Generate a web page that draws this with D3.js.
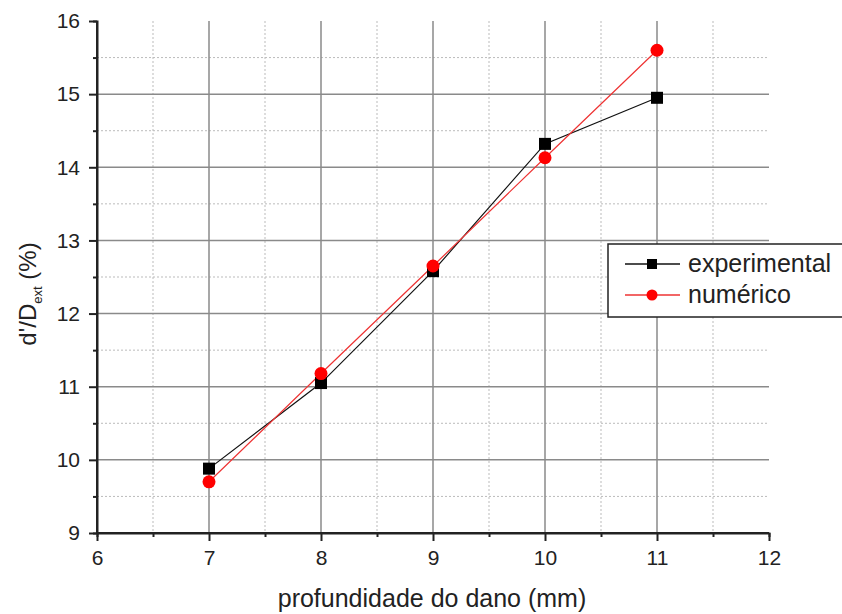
<!DOCTYPE html>
<html>
<head>
<meta charset="utf-8">
<script src="https://cdn.jsdelivr.net/npm/d3@7"></script>
<style>
  body { margin: 0; background: #fff; }
  text { font-family: "Liberation Sans", Arial, sans-serif; }
</style>
</head>
<body>
<div id="chart"></div>
<script>
// data
var depth = [7, 8, 9, 10, 11];
var experimental = [9.88, 11.05, 12.58, 14.32, 14.95];
var numerico = [9.70, 11.18, 12.65, 14.13, 15.60];
var xTicks = [6, 7, 8, 9, 10, 11, 12];
var yTicks = [9, 10, 11, 12, 13, 14, 15, 16];

var svgWidth = 842;
var svgHeight = 614;

var margin = { top: 21, right: 73, bottom: 81, left: 97 };
var width = svgWidth - margin.left - margin.right;
var height = svgHeight - margin.top - margin.bottom;

var svg = d3.select("#chart")
  .append("svg")
  .attr("width", svgWidth)
  .attr("height", svgHeight);

var chartGroup = svg.append("g")
  .attr("transform", `translate(${margin.left}, ${margin.top})`);

var x = d3.scaleLinear().domain([6, 12]).range([0, width]);
var y = d3.scaleLinear().domain([9, 16]).range([height, 0]);

var minorX = d3.range(6.5, 12, 1);
var minorY = d3.range(9.5, 16, 1);

// minor grid (dotted)
chartGroup.selectAll(".minor-x")
  .data(minorX)
  .enter()
  .append("line")
  .attr("x1", d => x(d)).attr("x2", d => x(d))
  .attr("y1", 0).attr("y2", height)
  .attr("stroke", "#bbb")
  .attr("stroke-width", 1)
  .attr("stroke-dasharray", "2,2");

chartGroup.selectAll(".minor-y")
  .data(minorY)
  .enter()
  .append("line")
  .attr("x1", 0).attr("x2", width)
  .attr("y1", d => y(d)).attr("y2", d => y(d))
  .attr("stroke", "#bbb")
  .attr("stroke-width", 1)
  .attr("stroke-dasharray", "2,2");

// major grid (solid gray)
chartGroup.selectAll(".major-x")
  .data(xTicks.filter(d => d > 6 && d < 12))
  .enter()
  .append("line")
  .attr("x1", d => x(d)).attr("x2", d => x(d))
  .attr("y1", 0).attr("y2", height)
  .attr("stroke", "#8a8a8a")
  .attr("stroke-width", 1.5);

chartGroup.selectAll(".major-y")
  .data(yTicks.filter(d => d > 9 && d < 16))
  .enter()
  .append("line")
  .attr("x1", 0).attr("x2", width)
  .attr("y1", d => y(d)).attr("y2", d => y(d))
  .attr("stroke", "#8a8a8a")
  .attr("stroke-width", 1.5);

// axes
var bottomAxis = d3.axisBottom(x).tickValues(xTicks).tickFormat(d3.format("d")).tickSize(8).tickPadding(9);
var leftAxis = d3.axisLeft(y).tickValues(yTicks).tickFormat(d3.format("d")).tickSize(8).tickPadding(9);

var xAxis = chartGroup.append("g")
  .attr("transform", `translate(0, ${height})`)
  .call(bottomAxis);

var yAxis = chartGroup.append("g")
  .call(leftAxis);

chartGroup.append("g")
  .attr("transform", `translate(0, ${height})`)
  .call(d3.axisBottom(x).tickValues(minorX).tickSize(4).tickFormat(""));
chartGroup.append("g")
  .call(d3.axisLeft(y).tickValues(minorY).tickSize(4).tickFormat(""));

chartGroup.selectAll(".domain").attr("stroke", "#222").attr("stroke-width", 2);
chartGroup.selectAll(".tick line").attr("stroke", "#222").attr("stroke-width", 2);
xAxis.attr("font-size", null).attr("font-family", null);
yAxis.attr("font-size", null).attr("font-family", null);
xAxis.selectAll("text").style("font-size", "21px").attr("fill", "#222");
yAxis.selectAll("text").style("font-size", "21px").attr("fill", "#222");
xAxis.select(".domain").attr("d", `M0,0H${width}`);
yAxis.select(".domain").attr("d", `M0,0V${height}`);

// series
var line = d3.line().x((d, i) => x(depth[i])).y(d => y(d));

chartGroup.append("path")
  .datum(experimental)
  .attr("d", line)
  .attr("fill", "none")
  .attr("stroke", "#111")
  .attr("stroke-width", 1.2);

chartGroup.append("path")
  .datum(numerico)
  .attr("d", line)
  .attr("fill", "none")
  .attr("stroke", "#e33")
  .attr("stroke-width", 1.2);

chartGroup.selectAll(".sq")
  .data(experimental)
  .enter()
  .append("rect")
  .attr("x", (d, i) => x(depth[i]) - 6)
  .attr("y", d => y(d) - 6)
  .attr("width", 12)
  .attr("height", 12)
  .attr("fill", "#000");

chartGroup.selectAll(".dot")
  .data(numerico)
  .enter()
  .append("circle")
  .attr("cx", (d, i) => x(depth[i]))
  .attr("cy", d => y(d))
  .attr("r", 6.5)
  .attr("fill", "#f00");

// axis labels
svg.append("text")
  .attr("x", 432)
  .attr("y", 607)
  .attr("text-anchor", "middle")
  .style("font-size", "25px")
  .attr("fill", "#222")
  .text("profundidade do dano (mm)");

var yLabel = svg.append("text")
  .attr("transform", "translate(36, 294) rotate(-90)")
  .attr("text-anchor", "middle")
  .style("font-size", "24px")
  .attr("fill", "#222");
yLabel.append("tspan").text("d'/D");
yLabel.append("tspan").attr("dy", 6).style("font-size", "13px").text("ext");
yLabel.append("tspan").attr("dy", -6).text(" (%)");

// legend
var legend = svg.append("g").attr("transform", "translate(608, 244)");
legend.append("rect")
  .attr("width", 240).attr("height", 73)
  .attr("fill", "#fff")
  .attr("stroke", "#222")
  .attr("stroke-width", 1.5);

var row1 = legend.append("g").attr("transform", "translate(0, 20)");
row1.append("line").attr("x1", 17).attr("x2", 72).attr("stroke", "#111").attr("stroke-width", 1.5);
row1.append("rect").attr("x", 39).attr("y", -5).attr("width", 10).attr("height", 10).attr("fill", "#000");
row1.append("text").attr("x", 80).attr("y", 8).style("font-size", "25px").attr("fill", "#222").text("experimental");

var row2 = legend.append("g").attr("transform", "translate(0, 51)");
row2.append("line").attr("x1", 17).attr("x2", 72).attr("stroke", "#e33").attr("stroke-width", 1.5);
row2.append("circle").attr("cx", 44).attr("r", 5.5).attr("fill", "#f00");
row2.append("text").attr("x", 80).attr("y", 8).style("font-size", "25px").attr("fill", "#222").text("numérico");
</script>
</body>
</html>
